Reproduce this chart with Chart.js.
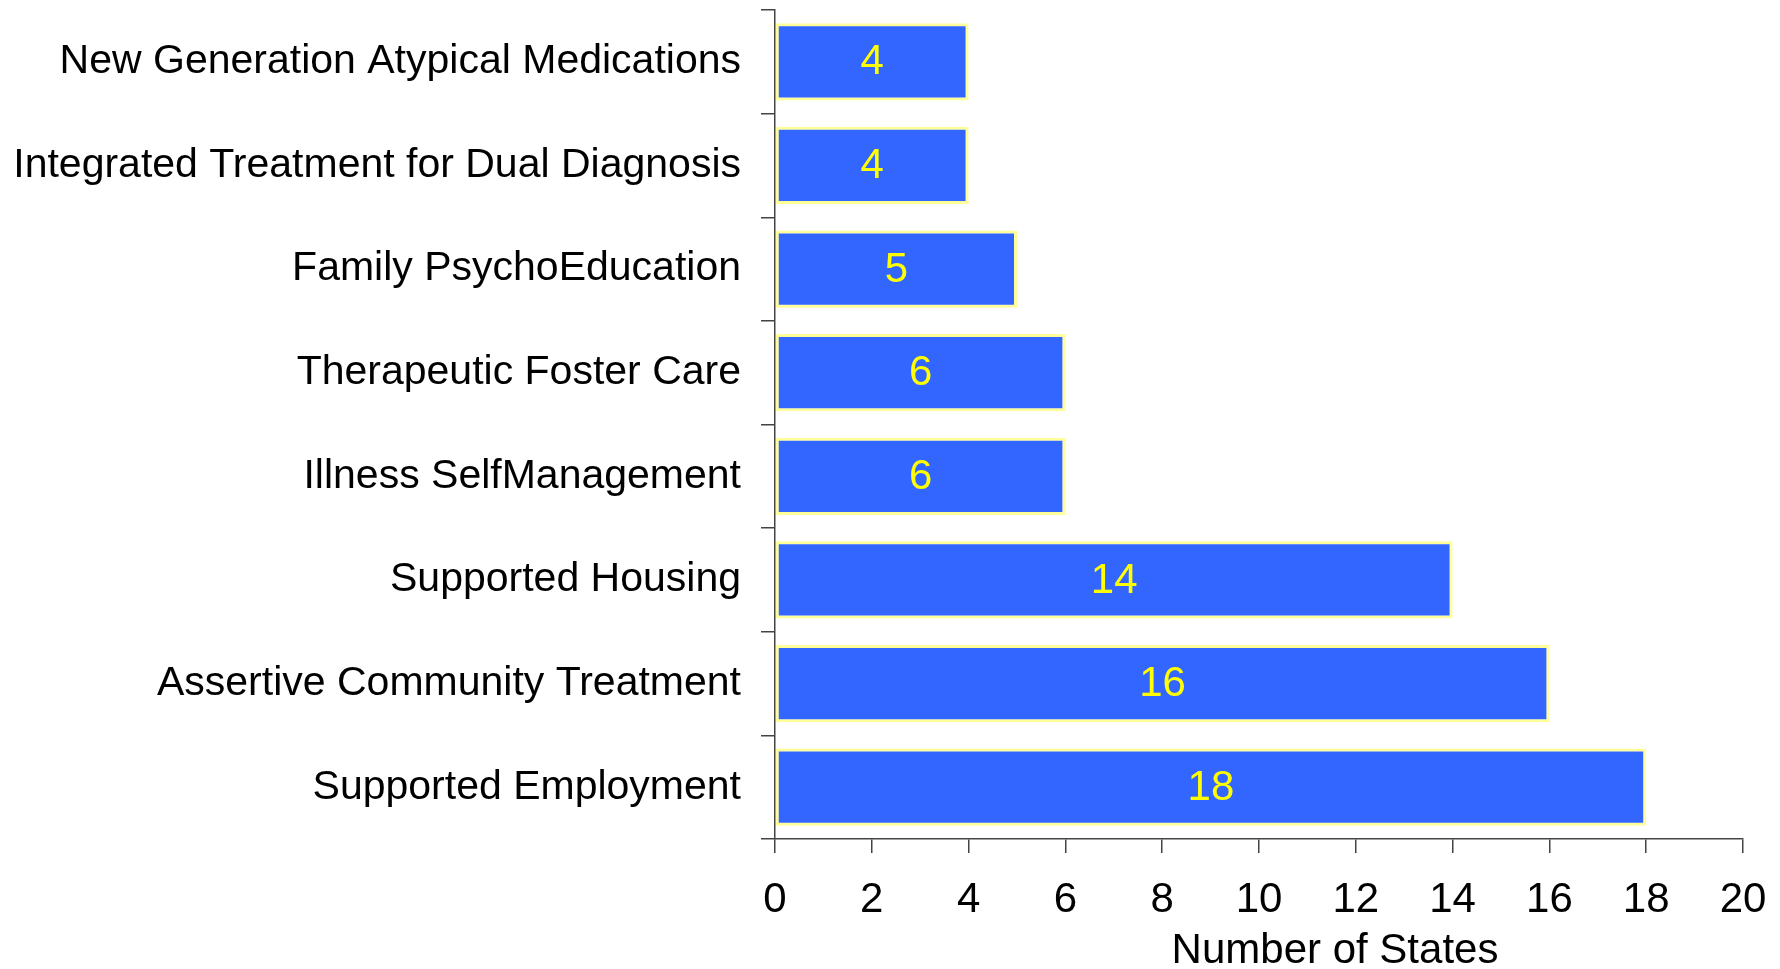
<!DOCTYPE html>
<html>
<head>
<meta charset="utf-8">
<script src="https://cdn.jsdelivr.net/npm/chart.js@4"></script>
<style>
  html, body { margin: 0; padding: 0; background: #fff; }
  #wrap { width: 1780px; height: 969px; }
</style>
</head>
<body>
<div id="wrap"><canvas id="chart"></canvas></div>
<script>
const categories = [
  'New Generation Atypical Medications',
  'Integrated Treatment for Dual Diagnosis',
  'Family PsychoEducation',
  'Therapeutic Foster Care',
  'Illness SelfManagement',
  'Supported Housing',
  'Assertive Community Treatment',
  'Supported Employment'
]
const stateCounts = [4, 4, 5, 6, 6, 14, 16, 18]
const xTicks = [0, 2, 4, 6, 8, 10, 12, 14, 16, 18, 20]
const axisTitle = 'Number of States'

const barBlue = '#3366ff'
const barEdge = '#ffff99'
const axisGray = '#444'
const font = 'Liberation Sans, Arial, sans-serif'

// values drawn in the middle of each bar
const valueLabels = {
  id: 'valueLabels',
  afterDatasetsDraw (chart) {
    const ctx = chart.ctx
    const meta = chart.getDatasetMeta(0)
    ctx.save()
    ctx.font = '42px ' + font
    ctx.fillStyle = '#ffff00'
    ctx.textAlign = 'center'
    ctx.textBaseline = 'middle'
    meta.data.forEach((bar, i) => {
      const x = (bar.x + bar.base) / 2
      ctx.fillText(String(stateCounts[i]), x, bar.y + 1)
    })
    ctx.restore()
  }
}

// x axis title sits a bit right of the axis centre in the original
const xTitle = {
  id: 'xTitle',
  afterDraw (chart) {
    const ctx = chart.ctx
    const area = chart.chartArea
    ctx.save()
    ctx.font = '42px ' + font
    ctx.fillStyle = '#000'
    ctx.textAlign = 'center'
    ctx.textBaseline = 'middle'
    ctx.fillText(axisTitle, (area.left + area.right) / 2 + 76, 951)
    ctx.restore()
  }
}

new Chart(document.getElementById('chart').getContext('2d'), {
  type: 'bar',
  data: {
    labels: categories,
    datasets: [{
      data: stateCounts,
      backgroundColor: barBlue,
      borderColor: barEdge,
      borderWidth: 3,
      borderSkipped: false,
      barPercentage: 0.745,
      categoryPercentage: 1
    }]
  },
  options: {
    indexAxis: 'y',
    responsive: true,
    maintainAspectRatio: false,
    animation: false,
    layout: { padding: { top: 10, right: 37, left: 0, bottom: 0 } },
    plugins: {
      legend: { display: false },
      tooltip: { enabled: false }
    },
    scales: {
      x: {
        min: 0,
        max: 20,
        afterBuildTicks (scale) {
          scale.ticks = xTicks.map(v => ({ value: v }))
        },
        afterFit (scale) {
          scale.height = 130
          scale.paddingLeft = 0
          scale.paddingRight = 0
        },
        grid: {
          drawOnChartArea: false,
          tickLength: 14,
          color: axisGray,
          lineWidth: 1.5
        },
        border: { color: axisGray, width: 1.5 },
        ticks: {
          color: '#000',
          padding: 22,
          maxRotation: 0,
          font: { family: font, size: 42 }
        }
      },
      y: {
        afterFit (scale) {
          scale.width = 775
          scale.paddingTop = 0
          scale.paddingBottom = 0
        },
        grid: {
          offset: true,
          drawOnChartArea: false,
          tickLength: 14,
          color: axisGray,
          lineWidth: 1.5
        },
        border: { color: axisGray, width: 1.5 },
        ticks: {
          color: '#000',
          padding: 20,
          font: { family: font, size: 41 }
        }
      }
    }
  },
  plugins: [valueLabels, xTitle]
})
</script>
</body>
</html>
